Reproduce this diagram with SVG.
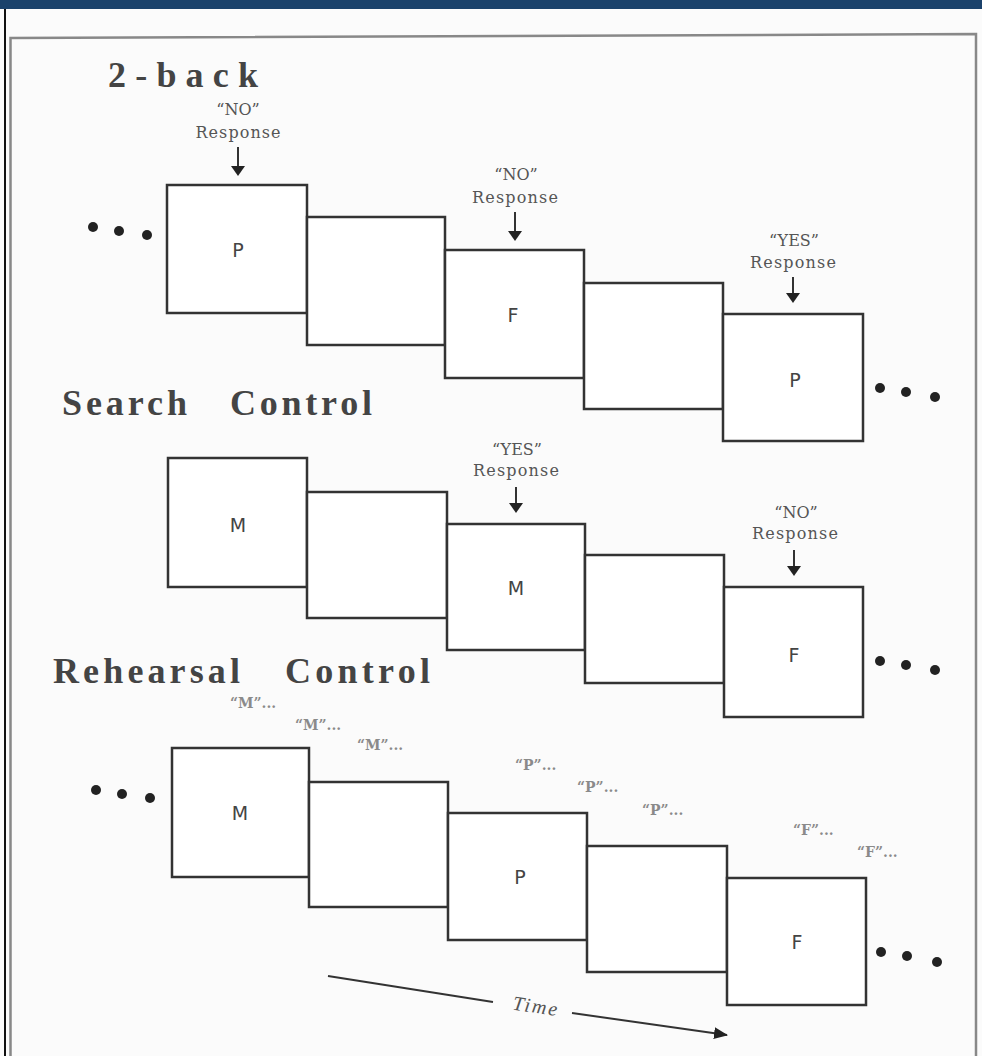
<svg xmlns="http://www.w3.org/2000/svg" width="982" height="1056" viewBox="0 0 982 1056">
<defs>
<style>
.box{fill:#fff;stroke:#333;stroke-width:2.5}
.lt{font-family:"DejaVu Sans",sans-serif;font-size:19px;fill:#444;text-anchor:middle}
.rs{font-family:"DejaVu Serif",serif;font-size:16px;fill:#555;text-anchor:middle}
.tt{font-family:"Liberation Serif",serif;font-weight:bold;font-size:36px;fill:#444}
.qt{font-family:"DejaVu Serif",serif;font-size:14px;fill:#8a8a8a;font-weight:bold}
.dot{fill:#222}
.arr{stroke:#333;stroke-width:2;fill:none}
.ah{fill:#222}
</style>
<marker id="tip" markerWidth="14" markerHeight="12" refX="13" refY="6" orient="auto" markerUnits="userSpaceOnUse">
<path d="M0,0 L14,6 L0,12 Z" fill="#222"/>
</marker>
</defs>
<rect x="0" y="0" width="982" height="1056" fill="#fbfbfb"/>
<rect x="0" y="0" width="982" height="9" fill="#1b426b"/>
<line x1="5" y1="9" x2="5" y2="1056" stroke="#111" stroke-width="2"/>
<path d="M10.5,1060 L10.5,38 L976,34 L976,1060" fill="none" stroke="#888" stroke-width="2.5"/>

<g id="titles">
<text class="tt" x="108" y="87" textLength="150" lengthAdjust="spacing">2-back</text>
<text class="tt" x="62" y="415" textLength="125" lengthAdjust="spacing">Search</text>
<text class="tt" x="230" y="415" textLength="142" lengthAdjust="spacing">Control</text>
<text class="tt" x="53" y="683" textLength="187" lengthAdjust="spacing">Rehearsal</text>
<text class="tt" x="285" y="683" textLength="145" lengthAdjust="spacing">Control</text>
</g>

<g id="row1">
<g id="r1b1"><rect class="box" x="167" y="185" width="140" height="128"/><text class="lt" x="238" y="257">P</text></g>
<g id="r1b2"><rect class="box" x="307" y="217" width="138" height="128"/></g>
<g id="r1b3"><rect class="box" x="445" y="250" width="139" height="128"/><text class="lt" x="513" y="322">F</text></g>
<g id="r1b4"><rect class="box" x="584" y="283" width="139" height="126"/></g>
<g id="r1b5"><rect class="box" x="723" y="314" width="140" height="127"/><text class="lt" x="795" y="387">P</text></g>
<g id="r1dots"><circle class="dot" cx="93" cy="227" r="5"/><circle class="dot" cx="119" cy="231" r="5"/><circle class="dot" cx="147" cy="235" r="5"/><circle class="dot" cx="880" cy="388" r="5"/><circle class="dot" cx="906" cy="392" r="5"/><circle class="dot" cx="935" cy="397" r="5"/></g>
<g id="r1labels">
<text class="rs" x="238" y="115">“NO”</text><text class="rs" x="238" y="138" textLength="85" lengthAdjust="spacing">Response</text>
<text class="rs" x="516" y="180">“NO”</text><text class="rs" x="515" y="203" textLength="86" lengthAdjust="spacing">Response</text>
<text class="rs" x="794" y="246">“YES”</text><text class="rs" x="793" y="268" textLength="86" lengthAdjust="spacing">Response</text>
</g>
</g>

<g id="row2">
<g id="r2b1"><rect class="box" x="168" y="458" width="139" height="129"/><text class="lt" x="238" y="532">M</text></g>
<g id="r2b2"><rect class="box" x="307" y="492" width="140" height="126"/></g>
<g id="r2b3"><rect class="box" x="447" y="524" width="138" height="126"/><text class="lt" x="516" y="595">M</text></g>
<g id="r2b4"><rect class="box" x="585" y="555" width="139" height="128"/></g>
<g id="r2b5"><rect class="box" x="724" y="587" width="139" height="130"/><text class="lt" x="794" y="662">F</text></g>
<g id="r2dots"><circle class="dot" cx="880" cy="661" r="5"/><circle class="dot" cx="906" cy="665" r="5"/><circle class="dot" cx="935" cy="670" r="5"/></g>
<g id="r2labels">
<text class="rs" x="517" y="455">“YES”</text><text class="rs" x="516" y="476" textLength="86" lengthAdjust="spacing">Response</text>
<text class="rs" x="796" y="518">“NO”</text><text class="rs" x="795" y="539" textLength="86" lengthAdjust="spacing">Response</text>
</g>
</g>

<g id="row3">
<g id="r3b1"><rect class="box" x="172" y="748" width="137" height="129"/><text class="lt" x="240" y="820">M</text></g>
<g id="r3b2"><rect class="box" x="309" y="782" width="139" height="125"/></g>
<g id="r3b3"><rect class="box" x="448" y="813" width="139" height="127"/><text class="lt" x="520" y="884">P</text></g>
<g id="r3b4"><rect class="box" x="587" y="846" width="140" height="126"/></g>
<g id="r3b5"><rect class="box" x="727" y="878" width="139" height="127"/><text class="lt" x="797" y="949">F</text></g>
<g id="r3dots"><circle class="dot" cx="96" cy="790" r="5"/><circle class="dot" cx="122" cy="794" r="5"/><circle class="dot" cx="150" cy="798" r="5"/><circle class="dot" cx="881" cy="952" r="5"/><circle class="dot" cx="907" cy="956" r="5"/><circle class="dot" cx="937" cy="962" r="5"/></g>
<g id="r3quotes">
<text class="qt" x="230" y="708">“M”...</text>
<text class="qt" x="295" y="730">“M”...</text>
<text class="qt" x="357" y="750">“M”...</text>
<text class="qt" x="515" y="770">“P”...</text>
<text class="qt" x="577" y="792">“P”...</text>
<text class="qt" x="642" y="815">“P”...</text>
<text class="qt" x="793" y="835">“F”...</text>
<text class="qt" x="857" y="857">“F”...</text>
</g>
</g>

<g id="connectors">
<line class="arr" x1="238" y1="147" x2="238" y2="168"/><path class="ah" d="M231,166 L245,166 L238,176 Z"/>
<line class="arr" x1="515" y1="212" x2="515" y2="233"/><path class="ah" d="M508,231 L522,231 L515,241 Z"/>
<line class="arr" x1="793" y1="277" x2="793" y2="295"/><path class="ah" d="M786,293 L800,293 L793,303 Z"/>
<line class="arr" x1="516" y1="487" x2="516" y2="505"/><path class="ah" d="M509,503 L523,503 L516,513 Z"/>
<line class="arr" x1="794" y1="550" x2="794" y2="568"/><path class="ah" d="M787,566 L801,566 L794,576 Z"/>
<line class="arr" x1="328" y1="976" x2="493" y2="1002"/>
<line class="arr" x1="572" y1="1013" x2="727" y2="1035" marker-end="url(#tip)"/>
<text x="536" y="1013" transform="rotate(8.5 536 1007)" font-family="Liberation Serif, serif" font-style="italic" font-size="20" letter-spacing="2" fill="#555" text-anchor="middle">Time</text>
</g>
</svg>
